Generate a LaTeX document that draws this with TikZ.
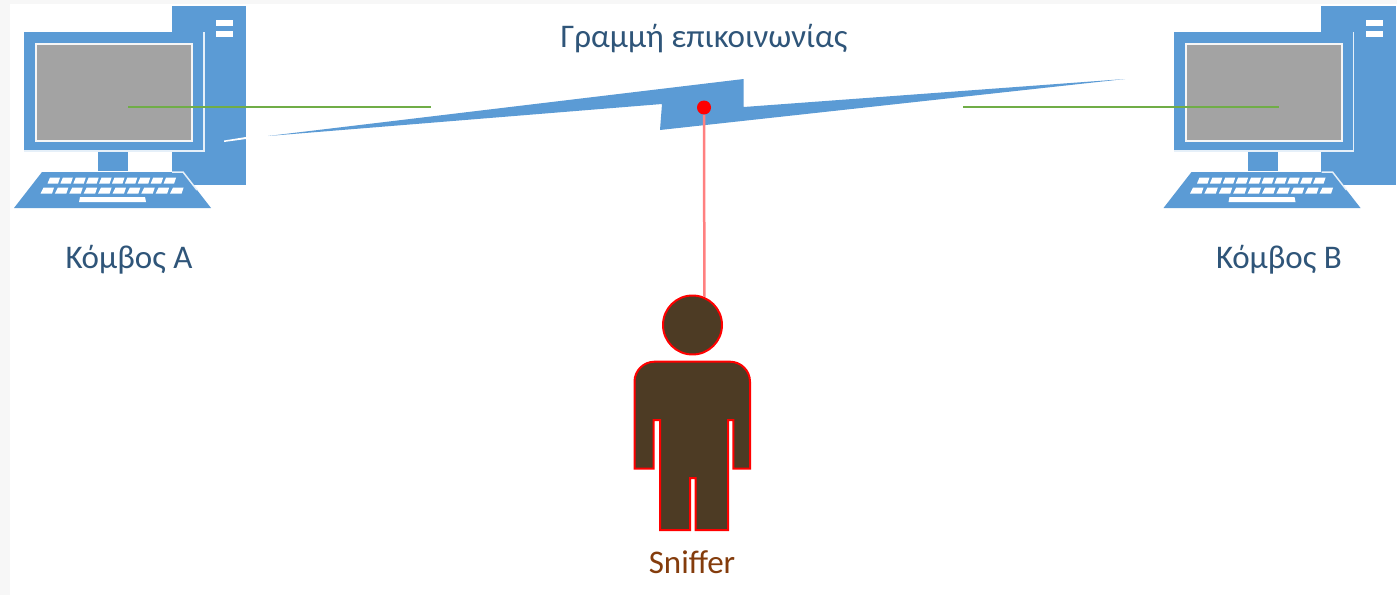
\documentclass[tikz,border=0pt]{standalone}
\usepackage{fontspec}
\setmainfont{Carlito}
\definecolor{pcblue}{HTML}{5B9BD5}
\definecolor{screengray}{HTML}{A3A3A3}
\definecolor{linegreen}{HTML}{70AD47}
\definecolor{snifferbrown}{HTML}{4D3B24}
\definecolor{labelblue}{HTML}{2F5579}
\definecolor{labelbrown}{HTML}{843C0C}
\tikzset{
  pcpart/.style={fill=pcblue},
  pcedge/.style={draw=white!85!pcblue, line width=0.03cm},
  keycap/.style={fill=white},
  tapline/.style={draw=linegreen, line width=0.04cm},
  label/.style={font=\fontsize{18.8}{22}\selectfont, text=labelblue, inner sep=0pt},
  person/.style={fill=snifferbrown, draw=red, line width=0.04cm}
}
\begin{document}
\begin{tikzpicture}[x=0.02cm, y=-0.02cm]
  \useasboundingbox (0,0) rectangle (1397,595);
  % page background
  \fill[black!3] (0,0) rectangle (1397,595);
  \fill[white] (10,4) rectangle (1397,595);

  % Computers
  \foreach \shift/\side in {0/A, 1149.5/B} {
    \begin{scope}[xshift=\shift*0.02cm]
      \fill[pcpart] (171.5,6) rectangle (246,185);
      \fill[keycap] (216,20) rectangle (233,25.5);
      \fill[keycap] (216,31) rectangle (233,37);
      \fill[pcpart] (24,32) rectangle (204,151);
      \draw[pcedge] (204,32) -- (204,151) -- (24,151);
      \fill[screengray, draw=white!90!screengray, line width=0.04cm] (36,43.5) rectangle (192,141);
      \fill[pcpart] (98,152) rectangle (128,171);
      \fill[pcpart] (42,172) -- (183,172) -- (211,208) -- (14,208) -- cycle;
      \draw[pcedge] (172,172) -- (183,172) -- (197,190);
      \foreach \i in {0,...,9} {
        \fill[keycap] ({50+12.9*\i},177.5) -- ({60+12.9*\i},177.5) -- ({58+12.9*\i},183.5) -- ({47.5+12.9*\i},183.5) -- cycle;
        \fill[keycap] ({43.5+14.4*\i},187.5) -- ({54+14.4*\i},187.5) -- ({52+14.4*\i},193.5) -- ({40.5+14.4*\i},193.5) -- cycle;
      }
      \fill[keycap] (80,197) -- (145,197) -- (146,202) -- (79,202) -- cycle;
    \end{scope}
  }

  % Lightning link
  \fill[keycap] (224,140.5) -- (246,137) -- (246,139) -- (224,142) -- cycle;
  \fill[pcpart] (268,136) -- (743.7,79) -- (743.7,107) -- (1125,79) -- (660,130) -- (662,104) -- cycle;

  % Tap lines
  \coordinate (tapAstart) at (128,107);
  \coordinate (tapAend) at (431,107);
  \coordinate (tapBstart) at (963,107);
  \coordinate (tapBend) at (1279,107);
  \draw[tapline] (tapAstart) -- (tapAend);
  \draw[tapline] (tapBstart) -- (tapBend);

  % Sniffer
  \node[person, circle, minimum size=1.18cm, inner sep=0pt] (head) at (692.5,325) {};
  \draw[person, line join=miter] (655,361.7) -- (730,361.7) arc (-90:0:20) -- (750,468.5) -- (733.3,468.5) -- (733.3,420) -- (728,420)
    -- (728,530) -- (695.7,530) -- (695.7,478) -- (690,478) -- (690,530) -- (660,530) -- (660,420) -- (653.7,420) -- (653.7,468.5)
    -- (634.5,468.5) -- (634.5,381.7) arc (180:270:20) -- cycle;
  \node[circle, fill=red, minimum size=0.28cm, inner sep=0pt] (tap) at (704,107.5) {};
  \draw[red!50, line width=0.05cm] (tap.south) -- (head.67);

  % Labels
  \node[label] (nodeA) at (129,259.5) {Κόμβος Α};
  \node[label] (nodeB) at (1279,259.5) {Κόμβος Β};
  \node[label] (link) at (704,38.5) {Γραμμή επικοινωνίας};
  \node[label, text=labelbrown] (sniffer) at (692,562) {Sniffer};
\end{tikzpicture}
\end{document}
